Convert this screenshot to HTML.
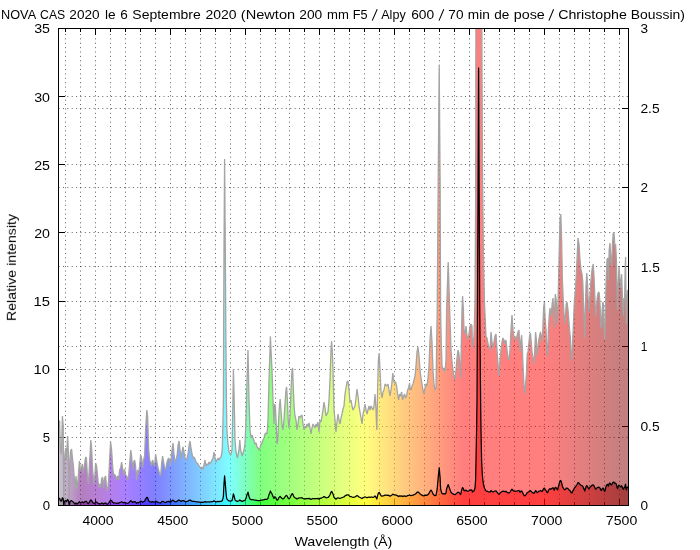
<!DOCTYPE html><html><head><meta charset="utf-8"><style>html,body{margin:0;padding:0;background:#fff;width:700px;height:550px;overflow:hidden}</style></head><body><svg width="700" height="550" viewBox="0 0 700 550" style="position:absolute;left:0;top:0;font-family:'Liberation Sans',sans-serif">
<defs><linearGradient id="sp" gradientUnits="userSpaceOnUse" x1="58.5" y1="0" x2="628.5" y2="0"><stop offset="0.0000" stop-color="rgb(149,139,159)"/><stop offset="0.0083" stop-color="rgb(137,109,147)"/><stop offset="0.0167" stop-color="rgb(129,80,143)"/><stop offset="0.0250" stop-color="rgb(122,52,146)"/><stop offset="0.0333" stop-color="rgb(109,20,131)"/><stop offset="0.0417" stop-color="rgb(103,0,126)"/><stop offset="0.0500" stop-color="rgb(107,0,141)"/><stop offset="0.0583" stop-color="rgb(110,0,155)"/><stop offset="0.0667" stop-color="rgb(111,0,169)"/><stop offset="0.0750" stop-color="rgb(110,0,183)"/><stop offset="0.0833" stop-color="rgb(108,0,197)"/><stop offset="0.0917" stop-color="rgb(105,0,211)"/><stop offset="0.1000" stop-color="rgb(100,0,226)"/><stop offset="0.1083" stop-color="rgb(94,0,240)"/><stop offset="0.1167" stop-color="rgb(86,0,254)"/><stop offset="0.1250" stop-color="rgb(73,0,255)"/><stop offset="0.1333" stop-color="rgb(59,0,255)"/><stop offset="0.1417" stop-color="rgb(46,0,255)"/><stop offset="0.1500" stop-color="rgb(32,0,255)"/><stop offset="0.1583" stop-color="rgb(19,0,255)"/><stop offset="0.1667" stop-color="rgb(5,0,255)"/><stop offset="0.1750" stop-color="rgb(0,10,255)"/><stop offset="0.1833" stop-color="rgb(0,26,255)"/><stop offset="0.1917" stop-color="rgb(0,42,255)"/><stop offset="0.2000" stop-color="rgb(0,59,255)"/><stop offset="0.2083" stop-color="rgb(0,75,255)"/><stop offset="0.2167" stop-color="rgb(0,91,255)"/><stop offset="0.2250" stop-color="rgb(0,107,255)"/><stop offset="0.2333" stop-color="rgb(0,123,255)"/><stop offset="0.2417" stop-color="rgb(0,140,255)"/><stop offset="0.2500" stop-color="rgb(0,156,255)"/><stop offset="0.2583" stop-color="rgb(0,172,255)"/><stop offset="0.2667" stop-color="rgb(0,188,255)"/><stop offset="0.2750" stop-color="rgb(0,204,255)"/><stop offset="0.2833" stop-color="rgb(0,220,255)"/><stop offset="0.2917" stop-color="rgb(0,237,255)"/><stop offset="0.3000" stop-color="rgb(0,253,255)"/><stop offset="0.3083" stop-color="rgb(0,255,220)"/><stop offset="0.3167" stop-color="rgb(0,255,179)"/><stop offset="0.3250" stop-color="rgb(0,255,139)"/><stop offset="0.3333" stop-color="rgb(0,255,98)"/><stop offset="0.3417" stop-color="rgb(0,255,58)"/><stop offset="0.3500" stop-color="rgb(0,255,18)"/><stop offset="0.3583" stop-color="rgb(7,255,0)"/><stop offset="0.3667" stop-color="rgb(18,255,0)"/><stop offset="0.3750" stop-color="rgb(30,255,0)"/><stop offset="0.3833" stop-color="rgb(41,255,0)"/><stop offset="0.3917" stop-color="rgb(53,255,0)"/><stop offset="0.4000" stop-color="rgb(64,255,0)"/><stop offset="0.4083" stop-color="rgb(76,255,0)"/><stop offset="0.4167" stop-color="rgb(88,255,0)"/><stop offset="0.4250" stop-color="rgb(99,255,0)"/><stop offset="0.4333" stop-color="rgb(111,255,0)"/><stop offset="0.4417" stop-color="rgb(122,255,0)"/><stop offset="0.4500" stop-color="rgb(134,255,0)"/><stop offset="0.4583" stop-color="rgb(145,255,0)"/><stop offset="0.4667" stop-color="rgb(157,255,0)"/><stop offset="0.4750" stop-color="rgb(168,255,0)"/><stop offset="0.4833" stop-color="rgb(180,255,0)"/><stop offset="0.4917" stop-color="rgb(192,255,0)"/><stop offset="0.5000" stop-color="rgb(203,255,0)"/><stop offset="0.5083" stop-color="rgb(215,255,0)"/><stop offset="0.5167" stop-color="rgb(226,255,0)"/><stop offset="0.5250" stop-color="rgb(238,255,0)"/><stop offset="0.5333" stop-color="rgb(249,255,0)"/><stop offset="0.5417" stop-color="rgb(255,249,0)"/><stop offset="0.5500" stop-color="rgb(255,236,0)"/><stop offset="0.5583" stop-color="rgb(255,224,0)"/><stop offset="0.5667" stop-color="rgb(255,211,0)"/><stop offset="0.5750" stop-color="rgb(255,199,0)"/><stop offset="0.5833" stop-color="rgb(255,186,0)"/><stop offset="0.5917" stop-color="rgb(255,174,0)"/><stop offset="0.6000" stop-color="rgb(255,161,0)"/><stop offset="0.6083" stop-color="rgb(255,149,0)"/><stop offset="0.6167" stop-color="rgb(255,137,0)"/><stop offset="0.6250" stop-color="rgb(255,124,0)"/><stop offset="0.6333" stop-color="rgb(255,112,0)"/><stop offset="0.6417" stop-color="rgb(255,99,0)"/><stop offset="0.6500" stop-color="rgb(255,87,0)"/><stop offset="0.6583" stop-color="rgb(255,74,0)"/><stop offset="0.6667" stop-color="rgb(255,62,0)"/><stop offset="0.6750" stop-color="rgb(255,49,0)"/><stop offset="0.6833" stop-color="rgb(255,37,0)"/><stop offset="0.6917" stop-color="rgb(255,24,0)"/><stop offset="0.7000" stop-color="rgb(255,12,0)"/><stop offset="0.7083" stop-color="rgb(255,0,0)"/><stop offset="0.7167" stop-color="rgb(255,0,0)"/><stop offset="0.7250" stop-color="rgb(255,0,0)"/><stop offset="0.7333" stop-color="rgb(255,0,0)"/><stop offset="0.7417" stop-color="rgb(255,0,0)"/><stop offset="0.7500" stop-color="rgb(255,0,0)"/><stop offset="0.7583" stop-color="rgb(255,0,0)"/><stop offset="0.7667" stop-color="rgb(255,0,0)"/><stop offset="0.7750" stop-color="rgb(255,0,0)"/><stop offset="0.7833" stop-color="rgb(255,0,0)"/><stop offset="0.7917" stop-color="rgb(255,0,0)"/><stop offset="0.8000" stop-color="rgb(255,0,0)"/><stop offset="0.8083" stop-color="rgb(255,0,0)"/><stop offset="0.8167" stop-color="rgb(255,0,0)"/><stop offset="0.8250" stop-color="rgb(255,0,0)"/><stop offset="0.8333" stop-color="rgb(255,0,0)"/><stop offset="0.8417" stop-color="rgb(255,0,0)"/><stop offset="0.8500" stop-color="rgb(255,0,0)"/><stop offset="0.8583" stop-color="rgb(250,0,0)"/><stop offset="0.8667" stop-color="rgb(243,0,0)"/><stop offset="0.8750" stop-color="rgb(236,0,0)"/><stop offset="0.8833" stop-color="rgb(229,0,0)"/><stop offset="0.8917" stop-color="rgb(222,0,0)"/><stop offset="0.9000" stop-color="rgb(215,0,0)"/><stop offset="0.9083" stop-color="rgb(207,0,0)"/><stop offset="0.9167" stop-color="rgb(200,0,0)"/><stop offset="0.9250" stop-color="rgb(193,0,0)"/><stop offset="0.9333" stop-color="rgb(186,0,0)"/><stop offset="0.9417" stop-color="rgb(179,0,0)"/><stop offset="0.9500" stop-color="rgb(172,0,0)"/><stop offset="0.9583" stop-color="rgb(165,0,0)"/><stop offset="0.9667" stop-color="rgb(158,0,0)"/><stop offset="0.9750" stop-color="rgb(151,0,0)"/><stop offset="0.9833" stop-color="rgb(144,0,0)"/><stop offset="0.9917" stop-color="rgb(137,0,0)"/><stop offset="1.0000" stop-color="rgb(130,0,0)"/></linearGradient>
<clipPath id="cp"><rect x="58.5" y="28.5" width="570.0" height="477.0"/></clipPath></defs>
<rect width="700" height="550" fill="#fff"/>
<path d="M65.5 32.0 V505.5 M80.5 32.0 V505.5 M95.5 32.0 V505.5 M110.5 32.0 V505.5 M125.5 32.0 V505.5 M140.5 32.0 V505.5 M155.5 32.0 V505.5 M170.5 32.0 V505.5 M185.5 32.0 V505.5 M200.5 32.0 V505.5 M215.5 32.0 V505.5 M230.5 32.0 V505.5 M245.5 32.0 V505.5 M260.5 32.0 V505.5 M275.5 32.0 V505.5 M289.5 32.0 V505.5 M304.5 32.0 V505.5 M319.5 32.0 V505.5 M334.5 32.0 V505.5 M349.5 32.0 V505.5 M364.5 32.0 V505.5 M379.5 32.0 V505.5 M394.5 32.0 V505.5 M409.5 32.0 V505.5 M424.5 32.0 V505.5 M439.5 32.0 V505.5 M454.5 32.0 V505.5 M469.5 32.0 V505.5 M484.5 32.0 V505.5 M499.5 32.0 V505.5 M514.5 32.0 V505.5 M529.5 32.0 V505.5 M544.5 32.0 V505.5 M559.5 32.0 V505.5 M574.5 32.0 V505.5 M589.5 32.0 V505.5 M604.5 32.0 V505.5 M619.5 32.0 V505.5" stroke="#000" stroke-opacity="0.62" stroke-width="1" stroke-dasharray="1 3.38" stroke-dashoffset="-2" fill="none"/>
<path d="M58.5 437.5 H628.5 M58.5 369.5 H628.5 M58.5 301.5 H628.5 M58.5 232.5 H628.5 M58.5 164.5 H628.5 M58.5 96.5 H628.5 M58.5 426.5 H628.5 M58.5 346.5 H628.5 M58.5 266.5 H628.5 M58.5 187.5 H628.5 M58.5 108.5 H628.5" stroke="#000" stroke-opacity="0.62" stroke-width="1" stroke-dasharray="1 3.37" stroke-dashoffset="-0.1" fill="none"/>
<path d="M65.5 28.5 v3.5 M65.5 505.5 v-3.5 M80.5 28.5 v3.5 M80.5 505.5 v-3.5 M95.5 28.5 v6.5 M95.5 505.5 v-6.5 M110.5 28.5 v3.5 M110.5 505.5 v-3.5 M125.5 28.5 v3.5 M125.5 505.5 v-3.5 M140.5 28.5 v3.5 M140.5 505.5 v-3.5 M155.5 28.5 v3.5 M155.5 505.5 v-3.5 M170.5 28.5 v6.5 M170.5 505.5 v-6.5 M185.5 28.5 v3.5 M185.5 505.5 v-3.5 M200.5 28.5 v3.5 M200.5 505.5 v-3.5 M215.5 28.5 v3.5 M215.5 505.5 v-3.5 M230.5 28.5 v3.5 M230.5 505.5 v-3.5 M245.5 28.5 v6.5 M245.5 505.5 v-6.5 M260.5 28.5 v3.5 M260.5 505.5 v-3.5 M275.5 28.5 v3.5 M275.5 505.5 v-3.5 M289.5 28.5 v3.5 M289.5 505.5 v-3.5 M304.5 28.5 v3.5 M304.5 505.5 v-3.5 M319.5 28.5 v6.5 M319.5 505.5 v-6.5 M334.5 28.5 v3.5 M334.5 505.5 v-3.5 M349.5 28.5 v3.5 M349.5 505.5 v-3.5 M364.5 28.5 v3.5 M364.5 505.5 v-3.5 M379.5 28.5 v3.5 M379.5 505.5 v-3.5 M394.5 28.5 v6.5 M394.5 505.5 v-6.5 M409.5 28.5 v3.5 M409.5 505.5 v-3.5 M424.5 28.5 v3.5 M424.5 505.5 v-3.5 M439.5 28.5 v3.5 M439.5 505.5 v-3.5 M454.5 28.5 v3.5 M454.5 505.5 v-3.5 M469.5 28.5 v6.5 M469.5 505.5 v-6.5 M484.5 28.5 v3.5 M484.5 505.5 v-3.5 M499.5 28.5 v3.5 M499.5 505.5 v-3.5 M514.5 28.5 v3.5 M514.5 505.5 v-3.5 M529.5 28.5 v3.5 M529.5 505.5 v-3.5 M544.5 28.5 v6.5 M544.5 505.5 v-6.5 M559.5 28.5 v3.5 M559.5 505.5 v-3.5 M574.5 28.5 v3.5 M574.5 505.5 v-3.5 M589.5 28.5 v3.5 M589.5 505.5 v-3.5 M604.5 28.5 v3.5 M604.5 505.5 v-3.5 M619.5 28.5 v6.5 M619.5 505.5 v-6.5 M58.5 505.5 h6.5 M58.5 437.5 h6.5 M58.5 369.5 h6.5 M58.5 301.5 h6.5 M58.5 232.5 h6.5 M58.5 164.5 h6.5 M58.5 96.5 h6.5 M58.5 28.5 h6.5 M628.5 505.5 h-6.5 M628.5 426.5 h-6.5 M628.5 346.5 h-6.5 M628.5 266.5 h-6.5 M628.5 187.5 h-6.5 M628.5 108.5 h-6.5 M628.5 28.5 h-6.5" stroke="#000" stroke-width="1" fill="none" shape-rendering="crispEdges"/>
<g clip-path="url(#cp)">
<path d="M58.8 505.5 L58.8 421.0 L59.6 421.0 L60.4 450.0 L61.4 454.0 L62.4 416.0 L63.2 426.0 L63.8 505.4 L64.4 460.0 L65.6 448.0 L66.4 460.0 L67.6 436.0 L68.4 452.0 L69.4 505.4 L70.0 460.0 L70.6 451.0 L71.6 449.0 L72.4 458.0 L73.4 466.0 L74.4 480.0 L75.0 489.0 L76.0 476.0 L77.0 489.0 L78.0 480.0 L79.4 461.0 L80.4 470.0 L81.4 468.0 L82.4 464.0 L83.4 474.0 L84.4 466.0 L85.6 457.0 L86.4 458.0 L87.4 476.0 L88.4 484.0 L89.4 466.0 L90.8 440.0 L91.6 448.0 L92.6 470.0 L93.6 480.0 L94.4 484.0 L95.6 463.0 L96.6 466.0 L97.6 476.0 L98.6 487.0 L99.6 484.0 L100.6 488.0 L101.6 479.0 L102.6 477.0 L103.6 488.0 L104.6 478.0 L105.6 476.0 L106.6 488.0 L107.6 491.0 L108.6 480.0 L109.6 460.0 L110.6 442.0 L111.6 450.0 L112.6 466.0 L113.6 476.0 L114.4 474.0 L115.6 476.0 L116.6 480.0 L117.6 476.0 L118.6 480.0 L119.6 470.0 L120.6 468.0 L121.6 462.0 L122.6 468.0 L123.6 475.0 L124.6 469.0 L125.6 475.0 L126.6 476.0 L127.6 480.0 L128.6 476.0 L129.6 464.0 L130.8 450.0 L131.6 456.0 L132.6 470.0 L133.6 462.0 L134.6 460.0 L135.6 466.0 L136.6 480.0 L137.6 470.0 L138.6 474.0 L139.6 466.0 L140.6 455.0 L141.6 458.0 L142.6 468.0 L143.6 460.0 L144.6 456.0 L145.6 430.0 L146.8 410.0 L147.6 416.0 L148.6 448.0 L149.6 460.0 L150.6 462.0 L151.6 466.0 L152.6 460.0 L153.6 464.0 L154.6 466.0 L155.6 454.0 L156.6 460.0 L157.6 466.0 L158.6 470.0 L159.6 474.0 L160.6 476.0 L161.6 464.0 L162.6 456.0 L163.6 462.0 L164.6 468.0 L165.6 470.0 L166.6 464.0 L167.6 460.0 L168.6 458.0 L169.6 460.0 L170.0 466.0 L171.0 460.0 L172.0 450.0 L173.0 443.0 L174.0 454.0 L175.0 462.0 L176.0 460.0 L177.0 456.0 L178.0 446.0 L179.0 441.0 L180.0 450.0 L181.0 458.0 L182.0 452.0 L183.0 447.0 L184.0 452.0 L185.0 458.0 L186.0 460.0 L187.0 458.0 L188.0 454.0 L189.0 446.0 L190.0 441.0 L191.0 448.0 L192.0 454.0 L193.0 458.0 L194.0 457.0 L195.0 459.0 L196.0 462.0 L197.0 463.0 L198.0 464.0 L199.0 466.0 L200.0 467.0 L201.0 469.0 L202.0 467.0 L203.0 469.0 L204.0 465.0 L205.0 460.0 L206.0 466.0 L207.0 464.0 L208.0 465.0 L209.0 462.0 L210.0 464.0 L211.0 462.0 L212.0 460.0 L213.0 458.0 L214.0 452.0 L215.0 458.0 L216.0 462.0 L217.0 460.0 L218.0 458.0 L219.0 460.0 L220.0 458.0 L221.0 457.0 L222.0 452.0 L222.4 445.0 L223.0 420.0 L223.4 400.0 L223.6 340.0 L224.0 250.0 L224.6 159.0 L225.3 250.0 L225.9 340.0 L226.4 400.0 L226.9 430.0 L228.0 444.0 L229.0 452.0 L230.6 455.0 L232.0 450.0 L232.6 420.0 L233.4 369.0 L234.2 400.0 L235.0 440.0 L236.0 452.0 L237.4 458.0 L239.0 450.0 L239.8 440.0 L240.6 450.0 L242.2 456.0 L244.0 450.0 L245.0 444.0 L246.0 420.0 L247.0 380.0 L248.0 350.0 L249.0 400.0 L250.0 430.0 L251.0 438.0 L252.0 435.0 L253.0 438.0 L254.0 441.0 L255.0 444.0 L256.0 443.0 L257.0 447.0 L258.0 448.0 L259.0 450.0 L260.0 448.0 L261.0 444.0 L262.0 443.0 L263.0 440.0 L264.0 438.0 L265.0 434.0 L266.0 433.0 L267.0 434.0 L268.0 420.0 L269.0 380.0 L270.0 350.0 L270.4 336.4 L271.0 350.0 L272.0 370.0 L273.0 400.0 L274.0 424.0 L274.6 404.0 L275.4 406.0 L276.2 424.0 L277.0 444.0 L277.8 440.0 L278.6 420.0 L279.4 406.0 L280.2 399.0 L281.0 410.0 L282.0 424.0 L283.0 430.0 L284.0 420.0 L285.0 404.0 L286.0 390.0 L286.6 387.0 L287.4 400.0 L288.2 420.0 L289.0 428.0 L290.0 416.0 L291.0 390.0 L292.0 370.0 L292.6 368.0 L293.4 390.0 L294.2 408.0 L295.0 416.0 L296.0 420.0 L297.0 430.0 L298.0 424.0 L299.0 416.0 L300.0 418.0 L301.0 416.0 L302.0 415.0 L303.0 424.0 L304.0 430.0 L305.0 426.0 L306.0 428.0 L307.0 424.0 L308.0 426.0 L309.0 423.0 L310.0 428.0 L311.0 434.0 L312.0 428.0 L313.0 424.0 L314.0 426.0 L315.0 428.0 L316.0 424.0 L317.0 426.0 L318.0 422.0 L319.0 432.0 L320.0 420.0 L321.0 422.0 L322.0 416.0 L323.0 410.0 L324.0 402.0 L325.0 408.0 L326.0 416.0 L327.0 414.0 L328.0 412.0 L329.0 400.0 L330.0 380.0 L331.0 350.0 L331.6 341.0 L332.2 350.0 L333.0 370.0 L334.0 410.0 L335.0 420.0 L336.0 432.0 L337.0 422.0 L338.0 414.0 L339.0 420.0 L340.0 424.0 L341.0 418.0 L342.0 414.0 L343.0 409.0 L344.0 406.0 L345.0 394.0 L346.0 388.0 L347.0 382.0 L348.0 381.0 L349.0 390.0 L350.0 402.0 L351.0 400.0 L352.0 406.0 L353.0 410.0 L354.0 408.0 L355.0 406.0 L356.0 398.0 L357.0 389.0 L358.0 396.0 L359.0 406.0 L360.0 412.0 L361.0 418.0 L362.0 424.0 L363.0 414.0 L364.0 410.0 L365.0 404.0 L366.0 410.0 L367.0 414.0 L368.0 410.0 L369.0 406.0 L370.0 410.0 L371.0 406.0 L372.0 408.0 L373.0 410.0 L374.0 406.0 L375.0 394.0 L376.0 410.0 L376.8 430.0 L377.6 390.0 L378.4 360.0 L379.2 353.0 L380.0 370.0 L381.0 392.0 L382.0 398.0 L383.0 392.0 L384.0 390.0 L385.0 384.0 L386.0 385.0 L387.0 386.0 L388.0 384.0 L389.0 390.0 L390.0 396.0 L391.0 390.0 L392.0 382.0 L392.8 373.0 L393.6 380.0 L394.6 383.0 L395.6 382.0 L396.6 386.0 L397.6 394.0 L398.6 400.0 L399.6 394.0 L400.6 396.0 L401.6 392.0 L402.6 400.0 L403.6 396.0 L404.6 394.0 L405.6 398.0 L406.6 396.0 L407.6 390.0 L408.6 388.0 L409.6 383.0 L410.0 388.0 L411.0 390.0 L412.0 386.0 L413.0 384.0 L414.0 380.0 L415.0 376.0 L416.0 366.0 L417.0 352.0 L418.0 347.0 L419.0 356.0 L420.0 370.0 L421.0 378.0 L422.0 384.0 L423.0 390.0 L424.0 394.0 L425.0 388.0 L426.0 384.0 L427.0 386.0 L428.0 378.0 L429.0 366.0 L430.0 340.0 L431.0 326.0 L432.0 342.0 L433.0 370.0 L434.0 384.0 L435.0 390.0 L436.0 388.0 L436.6 350.0 L437.2 310.0 L438.2 180.0 L439.2 65.0 L440.1 180.0 L440.6 310.0 L441.2 340.0 L442.0 366.0 L443.0 370.0 L444.0 368.0 L445.0 372.0 L446.0 360.0 L446.6 310.0 L448.2 262.0 L450.0 320.0 L451.0 350.0 L452.0 362.0 L453.0 370.0 L454.0 376.0 L455.0 380.0 L456.0 370.0 L457.0 358.0 L458.0 350.0 L459.0 354.0 L460.0 370.0 L460.6 378.0 L461.2 350.0 L462.0 310.0 L462.6 296.0 L463.4 310.0 L464.0 330.0 L465.0 334.0 L466.0 326.0 L467.0 336.0 L468.0 340.0 L469.0 334.0 L470.0 326.0 L471.0 324.0 L472.0 326.0 L472.4 348.0 L474.0 336.3 L475.0 301.3 L475.6 208.0 L476.0 -25.3 L476.6 -200.0 L477.0 -200.0 L477.5 -200.0 L478.0 -200.0 L478.6 -200.0 L479.2 -200.0 L479.7 -200.0 L480.6 -200.0 L481.0 -200.0 L481.6 -25.3 L482.4 161.3 L483.4 254.7 L484.4 301.3 L486.0 336.3 L487.0 338.0 L488.0 344.0 L489.0 348.0 L490.0 350.0 L491.0 332.0 L492.0 342.0 L493.0 348.0 L494.0 342.0 L495.0 336.0 L496.0 334.0 L497.0 350.0 L498.0 364.0 L499.0 376.0 L500.0 360.0 L501.0 350.0 L502.0 342.0 L503.0 338.0 L504.0 340.0 L505.0 344.0 L506.0 340.0 L507.0 350.0 L508.0 358.0 L509.0 360.0 L510.0 350.0 L511.0 330.0 L512.0 315.0 L513.0 330.0 L514.0 338.0 L515.0 336.0 L516.0 342.0 L517.0 336.0 L518.0 332.0 L519.0 330.0 L520.0 352.0 L521.0 340.0 L521.6 335.0 L522.4 350.0 L523.2 370.0 L524.0 386.0 L524.8 394.0 L525.6 384.0 L526.4 374.0 L527.2 354.0 L528.0 352.0 L528.8 344.0 L529.6 336.0 L530.4 333.0 L531.2 342.0 L532.0 352.0 L533.0 358.0 L534.0 364.0 L534.8 350.0 L535.6 332.0 L536.4 340.0 L537.2 356.0 L538.0 348.0 L538.8 340.0 L539.6 336.0 L540.4 332.0 L541.2 336.0 L542.0 342.0 L542.8 330.0 L543.6 308.0 L544.4 302.0 L545.2 320.0 L546.0 330.0 L546.8 350.0 L547.6 356.0 L548.4 330.0 L549.2 316.0 L550.0 308.0 L550.8 316.0 L551.6 310.0 L552.4 302.0 L553.0 298.0 L553.6 314.0 L554.2 328.0 L554.8 304.0 L555.4 294.0 L556.2 300.0 L557.0 314.0 L557.6 324.0 L558.2 296.0 L559.0 260.0 L560.0 220.0 L560.8 214.0 L561.6 240.0 L562.4 280.0 L563.2 300.0 L564.0 314.0 L564.8 324.0 L565.6 314.0 L566.2 304.0 L567.0 302.0 L568.0 310.0 L568.8 320.0 L569.6 330.0 L570.4 338.0 L571.2 356.0 L572.0 360.0 L572.8 338.0 L573.6 320.0 L574.4 300.0 L575.2 292.0 L576.0 280.0 L577.0 260.0 L578.0 238.0 L579.0 244.0 L580.0 260.0 L581.0 270.0 L582.0 274.0 L582.8 282.0 L583.4 300.0 L584.0 314.0 L584.8 338.0 L585.4 310.0 L586.0 286.0 L586.8 273.0 L587.6 286.0 L588.2 300.0 L588.8 312.0 L589.4 304.0 L590.0 294.0 L591.0 280.0 L592.0 270.0 L593.2 264.0 L594.0 276.0 L594.8 296.0 L595.6 316.0 L596.4 308.0 L597.2 298.0 L598.0 293.0 L599.0 292.0 L599.8 300.0 L600.4 312.0 L600.8 326.0 L601.6 328.0 L602.2 310.0 L602.8 302.0 L603.4 304.0 L604.0 326.0 L604.8 340.0 L605.4 314.0 L606.0 284.0 L607.0 260.0 L607.6 258.0 L608.4 280.0 L609.2 250.0 L610.0 243.0 L610.8 260.0 L611.6 266.0 L612.4 246.0 L613.2 233.0 L614.0 233.0 L614.8 246.0 L615.6 244.0 L616.4 260.0 L617.0 290.0 L617.6 310.0 L618.2 284.0 L619.0 267.0 L620.0 280.0 L621.0 288.0 L621.6 274.0 L622.2 290.0 L622.8 306.0 L623.4 316.0 L624.0 298.0 L624.6 300.0 L625.2 268.0 L625.6 257.0 L626.0 300.0 L626.4 324.0 L627.0 300.0 L627.6 290.0 L628.4 296.0 L628.4 505.5 Z" fill="url(#sp)" fill-opacity="0.5"/>
<path d="M58.8 421.0 L59.6 421.0 L60.4 450.0 L61.4 454.0 L62.4 416.0 L63.2 426.0 L63.8 505.4 L64.4 460.0 L65.6 448.0 L66.4 460.0 L67.6 436.0 L68.4 452.0 L69.4 505.4 L70.0 460.0 L70.6 451.0 L71.6 449.0 L72.4 458.0 L73.4 466.0 L74.4 480.0 L75.0 489.0 L76.0 476.0 L77.0 489.0 L78.0 480.0 L79.4 461.0 L80.4 470.0 L81.4 468.0 L82.4 464.0 L83.4 474.0 L84.4 466.0 L85.6 457.0 L86.4 458.0 L87.4 476.0 L88.4 484.0 L89.4 466.0 L90.8 440.0 L91.6 448.0 L92.6 470.0 L93.6 480.0 L94.4 484.0 L95.6 463.0 L96.6 466.0 L97.6 476.0 L98.6 487.0 L99.6 484.0 L100.6 488.0 L101.6 479.0 L102.6 477.0 L103.6 488.0 L104.6 478.0 L105.6 476.0 L106.6 488.0 L107.6 491.0 L108.6 480.0 L109.6 460.0 L110.6 442.0 L111.6 450.0 L112.6 466.0 L113.6 476.0 L114.4 474.0 L115.6 476.0 L116.6 480.0 L117.6 476.0 L118.6 480.0 L119.6 470.0 L120.6 468.0 L121.6 462.0 L122.6 468.0 L123.6 475.0 L124.6 469.0 L125.6 475.0 L126.6 476.0 L127.6 480.0 L128.6 476.0 L129.6 464.0 L130.8 450.0 L131.6 456.0 L132.6 470.0 L133.6 462.0 L134.6 460.0 L135.6 466.0 L136.6 480.0 L137.6 470.0 L138.6 474.0 L139.6 466.0 L140.6 455.0 L141.6 458.0 L142.6 468.0 L143.6 460.0 L144.6 456.0 L145.6 430.0 L146.8 410.0 L147.6 416.0 L148.6 448.0 L149.6 460.0 L150.6 462.0 L151.6 466.0 L152.6 460.0 L153.6 464.0 L154.6 466.0 L155.6 454.0 L156.6 460.0 L157.6 466.0 L158.6 470.0 L159.6 474.0 L160.6 476.0 L161.6 464.0 L162.6 456.0 L163.6 462.0 L164.6 468.0 L165.6 470.0 L166.6 464.0 L167.6 460.0 L168.6 458.0 L169.6 460.0 L170.0 466.0 L171.0 460.0 L172.0 450.0 L173.0 443.0 L174.0 454.0 L175.0 462.0 L176.0 460.0 L177.0 456.0 L178.0 446.0 L179.0 441.0 L180.0 450.0 L181.0 458.0 L182.0 452.0 L183.0 447.0 L184.0 452.0 L185.0 458.0 L186.0 460.0 L187.0 458.0 L188.0 454.0 L189.0 446.0 L190.0 441.0 L191.0 448.0 L192.0 454.0 L193.0 458.0 L194.0 457.0 L195.0 459.0 L196.0 462.0 L197.0 463.0 L198.0 464.0 L199.0 466.0 L200.0 467.0 L201.0 469.0 L202.0 467.0 L203.0 469.0 L204.0 465.0 L205.0 460.0 L206.0 466.0 L207.0 464.0 L208.0 465.0 L209.0 462.0 L210.0 464.0 L211.0 462.0 L212.0 460.0 L213.0 458.0 L214.0 452.0 L215.0 458.0 L216.0 462.0 L217.0 460.0 L218.0 458.0 L219.0 460.0 L220.0 458.0 L221.0 457.0 L222.0 452.0 L222.4 445.0 L223.0 420.0 L223.4 400.0 L223.6 340.0 L224.0 250.0 L224.6 159.0 L225.3 250.0 L225.9 340.0 L226.4 400.0 L226.9 430.0 L228.0 444.0 L229.0 452.0 L230.6 455.0 L232.0 450.0 L232.6 420.0 L233.4 369.0 L234.2 400.0 L235.0 440.0 L236.0 452.0 L237.4 458.0 L239.0 450.0 L239.8 440.0 L240.6 450.0 L242.2 456.0 L244.0 450.0 L245.0 444.0 L246.0 420.0 L247.0 380.0 L248.0 350.0 L249.0 400.0 L250.0 430.0 L251.0 438.0 L252.0 435.0 L253.0 438.0 L254.0 441.0 L255.0 444.0 L256.0 443.0 L257.0 447.0 L258.0 448.0 L259.0 450.0 L260.0 448.0 L261.0 444.0 L262.0 443.0 L263.0 440.0 L264.0 438.0 L265.0 434.0 L266.0 433.0 L267.0 434.0 L268.0 420.0 L269.0 380.0 L270.0 350.0 L270.4 336.4 L271.0 350.0 L272.0 370.0 L273.0 400.0 L274.0 424.0 L274.6 404.0 L275.4 406.0 L276.2 424.0 L277.0 444.0 L277.8 440.0 L278.6 420.0 L279.4 406.0 L280.2 399.0 L281.0 410.0 L282.0 424.0 L283.0 430.0 L284.0 420.0 L285.0 404.0 L286.0 390.0 L286.6 387.0 L287.4 400.0 L288.2 420.0 L289.0 428.0 L290.0 416.0 L291.0 390.0 L292.0 370.0 L292.6 368.0 L293.4 390.0 L294.2 408.0 L295.0 416.0 L296.0 420.0 L297.0 430.0 L298.0 424.0 L299.0 416.0 L300.0 418.0 L301.0 416.0 L302.0 415.0 L303.0 424.0 L304.0 430.0 L305.0 426.0 L306.0 428.0 L307.0 424.0 L308.0 426.0 L309.0 423.0 L310.0 428.0 L311.0 434.0 L312.0 428.0 L313.0 424.0 L314.0 426.0 L315.0 428.0 L316.0 424.0 L317.0 426.0 L318.0 422.0 L319.0 432.0 L320.0 420.0 L321.0 422.0 L322.0 416.0 L323.0 410.0 L324.0 402.0 L325.0 408.0 L326.0 416.0 L327.0 414.0 L328.0 412.0 L329.0 400.0 L330.0 380.0 L331.0 350.0 L331.6 341.0 L332.2 350.0 L333.0 370.0 L334.0 410.0 L335.0 420.0 L336.0 432.0 L337.0 422.0 L338.0 414.0 L339.0 420.0 L340.0 424.0 L341.0 418.0 L342.0 414.0 L343.0 409.0 L344.0 406.0 L345.0 394.0 L346.0 388.0 L347.0 382.0 L348.0 381.0 L349.0 390.0 L350.0 402.0 L351.0 400.0 L352.0 406.0 L353.0 410.0 L354.0 408.0 L355.0 406.0 L356.0 398.0 L357.0 389.0 L358.0 396.0 L359.0 406.0 L360.0 412.0 L361.0 418.0 L362.0 424.0 L363.0 414.0 L364.0 410.0 L365.0 404.0 L366.0 410.0 L367.0 414.0 L368.0 410.0 L369.0 406.0 L370.0 410.0 L371.0 406.0 L372.0 408.0 L373.0 410.0 L374.0 406.0 L375.0 394.0 L376.0 410.0 L376.8 430.0 L377.6 390.0 L378.4 360.0 L379.2 353.0 L380.0 370.0 L381.0 392.0 L382.0 398.0 L383.0 392.0 L384.0 390.0 L385.0 384.0 L386.0 385.0 L387.0 386.0 L388.0 384.0 L389.0 390.0 L390.0 396.0 L391.0 390.0 L392.0 382.0 L392.8 373.0 L393.6 380.0 L394.6 383.0 L395.6 382.0 L396.6 386.0 L397.6 394.0 L398.6 400.0 L399.6 394.0 L400.6 396.0 L401.6 392.0 L402.6 400.0 L403.6 396.0 L404.6 394.0 L405.6 398.0 L406.6 396.0 L407.6 390.0 L408.6 388.0 L409.6 383.0 L410.0 388.0 L411.0 390.0 L412.0 386.0 L413.0 384.0 L414.0 380.0 L415.0 376.0 L416.0 366.0 L417.0 352.0 L418.0 347.0 L419.0 356.0 L420.0 370.0 L421.0 378.0 L422.0 384.0 L423.0 390.0 L424.0 394.0 L425.0 388.0 L426.0 384.0 L427.0 386.0 L428.0 378.0 L429.0 366.0 L430.0 340.0 L431.0 326.0 L432.0 342.0 L433.0 370.0 L434.0 384.0 L435.0 390.0 L436.0 388.0 L436.6 350.0 L437.2 310.0 L438.2 180.0 L439.2 65.0 L440.1 180.0 L440.6 310.0 L441.2 340.0 L442.0 366.0 L443.0 370.0 L444.0 368.0 L445.0 372.0 L446.0 360.0 L446.6 310.0 L448.2 262.0 L450.0 320.0 L451.0 350.0 L452.0 362.0 L453.0 370.0 L454.0 376.0 L455.0 380.0 L456.0 370.0 L457.0 358.0 L458.0 350.0 L459.0 354.0 L460.0 370.0 L460.6 378.0 L461.2 350.0 L462.0 310.0 L462.6 296.0 L463.4 310.0 L464.0 330.0 L465.0 334.0 L466.0 326.0 L467.0 336.0 L468.0 340.0 L469.0 334.0 L470.0 326.0 L471.0 324.0 L472.0 326.0 L472.4 348.0 L474.0 336.3 L475.0 301.3 L475.6 208.0 L476.0 -25.3 L476.6 -200.0 L477.0 -200.0 L477.5 -200.0 L478.0 -200.0 L478.6 -200.0 L479.2 -200.0 L479.7 -200.0 L480.6 -200.0 L481.0 -200.0 L481.6 -25.3 L482.4 161.3 L483.4 254.7 L484.4 301.3 L486.0 336.3 L487.0 338.0 L488.0 344.0 L489.0 348.0 L490.0 350.0 L491.0 332.0 L492.0 342.0 L493.0 348.0 L494.0 342.0 L495.0 336.0 L496.0 334.0 L497.0 350.0 L498.0 364.0 L499.0 376.0 L500.0 360.0 L501.0 350.0 L502.0 342.0 L503.0 338.0 L504.0 340.0 L505.0 344.0 L506.0 340.0 L507.0 350.0 L508.0 358.0 L509.0 360.0 L510.0 350.0 L511.0 330.0 L512.0 315.0 L513.0 330.0 L514.0 338.0 L515.0 336.0 L516.0 342.0 L517.0 336.0 L518.0 332.0 L519.0 330.0 L520.0 352.0 L521.0 340.0 L521.6 335.0 L522.4 350.0 L523.2 370.0 L524.0 386.0 L524.8 394.0 L525.6 384.0 L526.4 374.0 L527.2 354.0 L528.0 352.0 L528.8 344.0 L529.6 336.0 L530.4 333.0 L531.2 342.0 L532.0 352.0 L533.0 358.0 L534.0 364.0 L534.8 350.0 L535.6 332.0 L536.4 340.0 L537.2 356.0 L538.0 348.0 L538.8 340.0 L539.6 336.0 L540.4 332.0 L541.2 336.0 L542.0 342.0 L542.8 330.0 L543.6 308.0 L544.4 302.0 L545.2 320.0 L546.0 330.0 L546.8 350.0 L547.6 356.0 L548.4 330.0 L549.2 316.0 L550.0 308.0 L550.8 316.0 L551.6 310.0 L552.4 302.0 L553.0 298.0 L553.6 314.0 L554.2 328.0 L554.8 304.0 L555.4 294.0 L556.2 300.0 L557.0 314.0 L557.6 324.0 L558.2 296.0 L559.0 260.0 L560.0 220.0 L560.8 214.0 L561.6 240.0 L562.4 280.0 L563.2 300.0 L564.0 314.0 L564.8 324.0 L565.6 314.0 L566.2 304.0 L567.0 302.0 L568.0 310.0 L568.8 320.0 L569.6 330.0 L570.4 338.0 L571.2 356.0 L572.0 360.0 L572.8 338.0 L573.6 320.0 L574.4 300.0 L575.2 292.0 L576.0 280.0 L577.0 260.0 L578.0 238.0 L579.0 244.0 L580.0 260.0 L581.0 270.0 L582.0 274.0 L582.8 282.0 L583.4 300.0 L584.0 314.0 L584.8 338.0 L585.4 310.0 L586.0 286.0 L586.8 273.0 L587.6 286.0 L588.2 300.0 L588.8 312.0 L589.4 304.0 L590.0 294.0 L591.0 280.0 L592.0 270.0 L593.2 264.0 L594.0 276.0 L594.8 296.0 L595.6 316.0 L596.4 308.0 L597.2 298.0 L598.0 293.0 L599.0 292.0 L599.8 300.0 L600.4 312.0 L600.8 326.0 L601.6 328.0 L602.2 310.0 L602.8 302.0 L603.4 304.0 L604.0 326.0 L604.8 340.0 L605.4 314.0 L606.0 284.0 L607.0 260.0 L607.6 258.0 L608.4 280.0 L609.2 250.0 L610.0 243.0 L610.8 260.0 L611.6 266.0 L612.4 246.0 L613.2 233.0 L614.0 233.0 L614.8 246.0 L615.6 244.0 L616.4 260.0 L617.0 290.0 L617.6 310.0 L618.2 284.0 L619.0 267.0 L620.0 280.0 L621.0 288.0 L621.6 274.0 L622.2 290.0 L622.8 306.0 L623.4 316.0 L624.0 298.0 L624.6 300.0 L625.2 268.0 L625.6 257.0 L626.0 300.0 L626.4 324.0 L627.0 300.0 L627.6 290.0 L628.4 296.0" fill="none" stroke="#a4a4a4" stroke-width="1.3" stroke-linejoin="bevel"/>
<path d="M58.8 505.5 L58.8 498.3 L59.6 498.3 L60.4 500.7 L61.4 501.1 L62.4 497.8 L63.2 498.7 L63.8 505.5 L64.4 501.6 L65.6 500.6 L66.4 501.6 L67.6 499.5 L68.4 500.9 L69.4 505.5 L70.0 501.6 L70.6 500.8 L71.6 500.7 L72.4 501.4 L73.4 502.1 L74.4 503.3 L75.0 504.1 L76.0 503.0 L77.0 504.1 L78.0 503.3 L79.4 501.7 L80.4 502.5 L81.4 502.3 L82.4 501.9 L83.4 502.8 L84.4 502.1 L85.6 501.3 L86.4 501.4 L87.4 503.0 L88.4 503.7 L89.4 502.1 L90.8 499.9 L91.6 500.6 L92.6 502.5 L93.6 503.3 L94.4 503.7 L95.6 501.9 L96.6 502.1 L97.6 503.0 L98.6 503.9 L99.6 503.7 L100.6 504.0 L101.6 503.2 L102.6 503.1 L103.6 504.0 L104.6 503.1 L105.6 503.0 L106.6 504.0 L107.6 504.3 L108.6 503.3 L109.6 501.6 L110.6 500.1 L111.6 500.7 L112.6 502.1 L113.6 503.0 L114.4 502.8 L115.6 503.0 L116.6 503.3 L117.6 503.0 L118.6 503.3 L119.6 502.5 L120.6 502.3 L121.6 501.8 L122.6 502.3 L123.6 502.9 L124.6 502.4 L125.6 502.9 L126.6 503.0 L127.6 503.3 L128.6 503.0 L129.6 501.9 L130.8 500.7 L131.6 501.3 L132.6 502.5 L133.6 501.8 L134.6 501.6 L135.6 502.1 L136.6 503.3 L137.6 502.5 L138.6 502.8 L139.6 502.1 L140.6 501.2 L141.6 501.4 L142.6 502.3 L143.6 501.6 L144.6 501.3 L145.6 499.0 L146.8 497.3 L147.6 497.8 L148.6 500.6 L149.6 501.6 L150.6 501.8 L151.6 502.1 L152.6 501.6 L153.6 501.9 L154.6 502.1 L155.6 501.1 L156.6 501.6 L157.6 502.1 L158.6 502.5 L159.6 502.8 L160.6 503.0 L161.6 501.9 L162.6 501.3 L163.6 501.8 L164.6 502.3 L165.6 502.5 L166.6 501.9 L167.6 501.6 L168.6 501.4 L169.6 501.6 L170.0 502.1 L171.0 501.6 L172.0 500.7 L173.0 500.1 L174.0 501.1 L175.0 501.8 L176.0 501.6 L177.0 501.3 L178.0 500.4 L179.0 500.0 L180.0 500.7 L181.0 501.4 L182.0 500.9 L183.0 500.5 L184.0 500.9 L185.0 501.4 L186.0 501.6 L187.0 501.4 L188.0 501.1 L189.0 500.4 L190.0 500.0 L191.0 500.6 L192.0 501.1 L193.0 501.4 L194.0 501.3 L195.0 501.5 L196.0 501.8 L197.0 501.9 L198.0 501.9 L199.0 502.1 L200.0 502.2 L201.0 502.4 L202.0 502.2 L203.0 502.4 L204.0 502.0 L205.0 501.6 L206.0 502.1 L207.0 501.9 L208.0 502.0 L209.0 501.8 L210.0 501.9 L211.0 501.8 L212.0 501.6 L213.0 501.4 L214.0 500.9 L215.0 501.4 L216.0 501.8 L217.0 501.6 L218.0 501.4 L219.0 501.6 L220.0 501.4 L221.0 501.3 L222.0 500.9 L222.4 500.3 L223.0 498.2 L223.4 496.5 L223.6 491.3 L224.0 483.6 L224.6 475.8 L225.3 483.6 L225.9 491.3 L226.4 496.5 L226.9 499.0 L228.0 500.2 L229.0 500.9 L230.6 501.2 L232.0 500.7 L232.6 498.2 L233.4 493.8 L234.2 496.5 L235.0 499.9 L236.0 500.9 L237.4 501.4 L239.0 500.7 L239.8 499.9 L240.6 500.7 L242.2 501.3 L244.0 500.7 L245.0 500.2 L246.0 498.2 L247.0 494.7 L248.0 492.2 L249.0 496.5 L250.0 499.0 L251.0 499.7 L252.0 499.5 L253.0 499.7 L254.0 500.0 L255.0 500.2 L256.0 500.1 L257.0 500.5 L258.0 500.6 L259.0 500.7 L260.0 500.6 L261.0 500.2 L262.0 500.1 L263.0 499.9 L264.0 499.7 L265.0 499.4 L266.0 499.3 L267.0 499.4 L268.0 498.2 L269.0 494.7 L270.0 492.2 L270.4 491.0 L271.0 492.2 L272.0 493.9 L273.0 496.5 L274.0 498.5 L274.6 496.8 L275.4 497.0 L276.2 498.5 L277.0 500.2 L277.8 499.9 L278.6 498.2 L279.4 497.0 L280.2 496.4 L281.0 497.3 L282.0 498.5 L283.0 499.0 L284.0 498.2 L285.0 496.8 L286.0 495.6 L286.6 495.3 L287.4 496.5 L288.2 498.2 L289.0 498.9 L290.0 497.8 L291.0 495.6 L292.0 493.9 L292.6 493.7 L293.4 495.6 L294.2 497.1 L295.0 497.8 L296.0 498.2 L297.0 499.0 L298.0 498.5 L299.0 497.8 L300.0 498.0 L301.0 497.8 L302.0 497.7 L303.0 498.5 L304.0 499.0 L305.0 498.7 L306.0 498.9 L307.0 498.5 L308.0 498.7 L309.0 498.4 L310.0 498.9 L311.0 499.4 L312.0 498.9 L313.0 498.5 L314.0 498.7 L315.0 498.9 L316.0 498.5 L317.0 498.7 L318.0 498.3 L319.0 499.2 L320.0 498.2 L321.0 498.3 L322.0 497.8 L323.0 497.3 L324.0 496.6 L325.0 497.1 L326.0 497.8 L327.0 497.7 L328.0 497.5 L329.0 496.5 L330.0 494.7 L331.0 492.2 L331.6 491.4 L332.2 492.2 L333.0 493.9 L334.0 497.3 L335.0 498.2 L336.0 499.2 L337.0 498.3 L338.0 497.7 L339.0 498.2 L340.0 498.5 L341.0 498.0 L342.0 497.7 L343.0 497.2 L344.0 497.0 L345.0 495.9 L346.0 495.4 L347.0 494.9 L348.0 494.8 L349.0 495.6 L350.0 496.6 L351.0 496.5 L352.0 497.0 L353.0 497.3 L354.0 497.1 L355.0 497.0 L356.0 496.3 L357.0 495.5 L358.0 496.1 L359.0 497.0 L360.0 497.5 L361.0 498.0 L362.0 498.5 L363.0 497.7 L364.0 497.3 L365.0 496.8 L366.0 497.3 L367.0 497.7 L368.0 497.3 L369.0 497.0 L370.0 497.3 L371.0 497.0 L372.0 497.1 L373.0 497.3 L374.0 497.0 L375.0 495.9 L376.0 497.3 L376.8 499.0 L377.6 495.6 L378.4 493.0 L379.2 492.4 L380.0 493.9 L381.0 495.8 L382.0 496.3 L383.0 495.8 L384.0 495.6 L385.0 495.1 L386.0 495.2 L387.0 495.3 L388.0 495.1 L389.0 495.6 L390.0 496.1 L391.0 495.6 L392.0 494.9 L392.8 494.1 L393.6 494.7 L394.6 495.0 L395.6 494.9 L396.6 495.3 L397.6 495.9 L398.6 496.5 L399.6 495.9 L400.6 496.1 L401.6 495.8 L402.6 496.5 L403.6 496.1 L404.6 495.9 L405.6 496.3 L406.6 496.1 L407.6 495.6 L408.6 495.4 L409.6 495.0 L410.0 495.4 L411.0 495.6 L412.0 495.3 L413.0 495.1 L414.0 494.7 L415.0 494.4 L416.0 493.5 L417.0 492.3 L418.0 491.9 L419.0 492.7 L420.0 493.9 L421.0 494.6 L422.0 495.1 L423.0 495.6 L424.0 495.9 L425.0 495.4 L426.0 495.1 L427.0 495.3 L428.0 494.6 L429.0 493.5 L430.0 491.3 L431.0 490.1 L432.0 491.5 L433.0 493.9 L434.0 495.1 L435.0 495.6 L436.0 495.4 L436.6 492.2 L437.2 488.7 L438.2 477.6 L439.2 467.7 L440.1 477.6 L440.6 488.7 L441.2 491.3 L442.0 493.5 L443.0 493.9 L444.0 493.7 L445.0 494.1 L446.0 493.0 L446.6 488.7 L448.2 484.6 L450.0 489.6 L451.0 492.2 L452.0 493.2 L453.0 493.9 L454.0 494.4 L455.0 494.7 L456.0 493.9 L457.0 492.9 L458.0 492.2 L459.0 492.5 L460.0 493.9 L460.6 494.6 L461.2 492.2 L462.0 488.7 L462.6 487.5 L463.4 488.7 L464.0 490.5 L465.0 490.8 L466.0 490.1 L467.0 491.0 L468.0 491.3 L469.0 490.8 L470.0 490.1 L471.0 489.9 L472.0 490.1 L472.4 492.0 L474.0 491.0 L475.0 488.0 L475.6 480.0 L476.0 460.0 L476.6 430.0 L477.0 400.0 L477.5 300.0 L478.0 200.0 L478.6 68.0 L479.2 200.0 L479.7 300.0 L480.6 400.0 L481.0 430.0 L481.6 460.0 L482.4 476.0 L483.4 484.0 L484.4 488.0 L486.0 491.0 L487.0 491.1 L488.0 491.7 L489.0 492.0 L490.0 492.2 L491.0 490.6 L492.0 491.5 L493.0 492.0 L494.0 491.5 L495.0 491.0 L496.0 490.8 L497.0 492.2 L498.0 493.4 L499.0 494.4 L500.0 493.0 L501.0 492.2 L502.0 491.5 L503.0 491.1 L504.0 491.3 L505.0 491.7 L506.0 491.3 L507.0 492.2 L508.0 492.9 L509.0 493.0 L510.0 492.2 L511.0 490.5 L512.0 489.2 L513.0 490.5 L514.0 491.1 L515.0 491.0 L516.0 491.5 L517.0 491.0 L518.0 490.6 L519.0 490.5 L520.0 492.3 L521.0 491.3 L521.6 490.9 L522.4 492.2 L523.2 493.9 L524.0 495.3 L524.8 495.9 L525.6 495.1 L526.4 494.2 L527.2 492.5 L528.0 492.3 L528.8 491.7 L529.6 491.0 L530.4 490.7 L531.2 491.5 L532.0 492.3 L533.0 492.9 L534.0 493.4 L534.8 492.2 L535.6 490.6 L536.4 491.3 L537.2 492.7 L538.0 492.0 L538.8 491.3 L539.6 491.0 L540.4 490.6 L541.2 491.0 L542.0 491.5 L542.8 490.5 L543.6 488.6 L544.4 488.1 L545.2 489.6 L546.0 490.5 L546.8 492.2 L547.6 492.7 L548.4 490.5 L549.2 489.3 L550.0 488.6 L550.8 489.3 L551.6 488.7 L552.4 488.1 L553.0 487.7 L553.6 489.1 L554.2 490.3 L554.8 488.2 L555.4 487.4 L556.2 487.9 L557.0 489.1 L557.6 489.9 L558.2 487.5 L559.0 484.5 L560.0 481.0 L560.8 480.5 L561.6 482.7 L562.4 486.2 L563.2 487.9 L564.0 489.1 L564.8 489.9 L565.6 489.1 L566.2 488.2 L567.0 488.1 L568.0 488.7 L568.8 489.6 L569.6 490.5 L570.4 491.1 L571.2 492.7 L572.0 493.0 L572.8 491.1 L573.6 489.6 L574.4 487.9 L575.2 487.2 L576.0 486.2 L577.0 484.5 L578.0 482.6 L579.0 483.1 L580.0 484.5 L581.0 485.3 L582.0 485.7 L582.8 486.3 L583.4 487.9 L584.0 489.1 L584.8 491.1 L585.4 488.7 L586.0 486.7 L586.8 485.6 L587.6 486.7 L588.2 487.9 L588.8 488.9 L589.4 488.2 L590.0 487.4 L591.0 486.2 L592.0 485.3 L593.2 484.8 L594.0 485.8 L594.8 487.5 L595.6 489.3 L596.4 488.6 L597.2 487.7 L598.0 487.3 L599.0 487.2 L599.8 487.9 L600.4 488.9 L600.8 490.1 L601.6 490.3 L602.2 488.7 L602.8 488.1 L603.4 488.2 L604.0 490.1 L604.8 491.3 L605.4 489.1 L606.0 486.5 L607.0 484.5 L607.6 484.3 L608.4 486.2 L609.2 483.6 L610.0 483.0 L610.8 484.5 L611.6 485.0 L612.4 483.3 L613.2 482.1 L614.0 482.1 L614.8 483.3 L615.6 483.1 L616.4 484.5 L617.0 487.0 L617.6 488.7 L618.2 486.5 L619.0 485.1 L620.0 486.2 L621.0 486.9 L621.6 485.7 L622.2 487.0 L622.8 488.4 L623.4 489.3 L624.0 487.7 L624.6 487.9 L625.2 485.1 L625.6 484.2 L626.0 487.9 L626.4 489.9 L627.0 487.9 L627.6 487.0 L628.4 487.5 L628.4 505.5 Z" fill="url(#sp)" fill-opacity="0.5"/>
<path d="M58.8 498.3 L59.6 498.3 L60.4 500.7 L61.4 501.1 L62.4 497.8 L63.2 498.7 L63.8 505.5 L64.4 501.6 L65.6 500.6 L66.4 501.6 L67.6 499.5 L68.4 500.9 L69.4 505.5 L70.0 501.6 L70.6 500.8 L71.6 500.7 L72.4 501.4 L73.4 502.1 L74.4 503.3 L75.0 504.1 L76.0 503.0 L77.0 504.1 L78.0 503.3 L79.4 501.7 L80.4 502.5 L81.4 502.3 L82.4 501.9 L83.4 502.8 L84.4 502.1 L85.6 501.3 L86.4 501.4 L87.4 503.0 L88.4 503.7 L89.4 502.1 L90.8 499.9 L91.6 500.6 L92.6 502.5 L93.6 503.3 L94.4 503.7 L95.6 501.9 L96.6 502.1 L97.6 503.0 L98.6 503.9 L99.6 503.7 L100.6 504.0 L101.6 503.2 L102.6 503.1 L103.6 504.0 L104.6 503.1 L105.6 503.0 L106.6 504.0 L107.6 504.3 L108.6 503.3 L109.6 501.6 L110.6 500.1 L111.6 500.7 L112.6 502.1 L113.6 503.0 L114.4 502.8 L115.6 503.0 L116.6 503.3 L117.6 503.0 L118.6 503.3 L119.6 502.5 L120.6 502.3 L121.6 501.8 L122.6 502.3 L123.6 502.9 L124.6 502.4 L125.6 502.9 L126.6 503.0 L127.6 503.3 L128.6 503.0 L129.6 501.9 L130.8 500.7 L131.6 501.3 L132.6 502.5 L133.6 501.8 L134.6 501.6 L135.6 502.1 L136.6 503.3 L137.6 502.5 L138.6 502.8 L139.6 502.1 L140.6 501.2 L141.6 501.4 L142.6 502.3 L143.6 501.6 L144.6 501.3 L145.6 499.0 L146.8 497.3 L147.6 497.8 L148.6 500.6 L149.6 501.6 L150.6 501.8 L151.6 502.1 L152.6 501.6 L153.6 501.9 L154.6 502.1 L155.6 501.1 L156.6 501.6 L157.6 502.1 L158.6 502.5 L159.6 502.8 L160.6 503.0 L161.6 501.9 L162.6 501.3 L163.6 501.8 L164.6 502.3 L165.6 502.5 L166.6 501.9 L167.6 501.6 L168.6 501.4 L169.6 501.6 L170.0 502.1 L171.0 501.6 L172.0 500.7 L173.0 500.1 L174.0 501.1 L175.0 501.8 L176.0 501.6 L177.0 501.3 L178.0 500.4 L179.0 500.0 L180.0 500.7 L181.0 501.4 L182.0 500.9 L183.0 500.5 L184.0 500.9 L185.0 501.4 L186.0 501.6 L187.0 501.4 L188.0 501.1 L189.0 500.4 L190.0 500.0 L191.0 500.6 L192.0 501.1 L193.0 501.4 L194.0 501.3 L195.0 501.5 L196.0 501.8 L197.0 501.9 L198.0 501.9 L199.0 502.1 L200.0 502.2 L201.0 502.4 L202.0 502.2 L203.0 502.4 L204.0 502.0 L205.0 501.6 L206.0 502.1 L207.0 501.9 L208.0 502.0 L209.0 501.8 L210.0 501.9 L211.0 501.8 L212.0 501.6 L213.0 501.4 L214.0 500.9 L215.0 501.4 L216.0 501.8 L217.0 501.6 L218.0 501.4 L219.0 501.6 L220.0 501.4 L221.0 501.3 L222.0 500.9 L222.4 500.3 L223.0 498.2 L223.4 496.5 L223.6 491.3 L224.0 483.6 L224.6 475.8 L225.3 483.6 L225.9 491.3 L226.4 496.5 L226.9 499.0 L228.0 500.2 L229.0 500.9 L230.6 501.2 L232.0 500.7 L232.6 498.2 L233.4 493.8 L234.2 496.5 L235.0 499.9 L236.0 500.9 L237.4 501.4 L239.0 500.7 L239.8 499.9 L240.6 500.7 L242.2 501.3 L244.0 500.7 L245.0 500.2 L246.0 498.2 L247.0 494.7 L248.0 492.2 L249.0 496.5 L250.0 499.0 L251.0 499.7 L252.0 499.5 L253.0 499.7 L254.0 500.0 L255.0 500.2 L256.0 500.1 L257.0 500.5 L258.0 500.6 L259.0 500.7 L260.0 500.6 L261.0 500.2 L262.0 500.1 L263.0 499.9 L264.0 499.7 L265.0 499.4 L266.0 499.3 L267.0 499.4 L268.0 498.2 L269.0 494.7 L270.0 492.2 L270.4 491.0 L271.0 492.2 L272.0 493.9 L273.0 496.5 L274.0 498.5 L274.6 496.8 L275.4 497.0 L276.2 498.5 L277.0 500.2 L277.8 499.9 L278.6 498.2 L279.4 497.0 L280.2 496.4 L281.0 497.3 L282.0 498.5 L283.0 499.0 L284.0 498.2 L285.0 496.8 L286.0 495.6 L286.6 495.3 L287.4 496.5 L288.2 498.2 L289.0 498.9 L290.0 497.8 L291.0 495.6 L292.0 493.9 L292.6 493.7 L293.4 495.6 L294.2 497.1 L295.0 497.8 L296.0 498.2 L297.0 499.0 L298.0 498.5 L299.0 497.8 L300.0 498.0 L301.0 497.8 L302.0 497.7 L303.0 498.5 L304.0 499.0 L305.0 498.7 L306.0 498.9 L307.0 498.5 L308.0 498.7 L309.0 498.4 L310.0 498.9 L311.0 499.4 L312.0 498.9 L313.0 498.5 L314.0 498.7 L315.0 498.9 L316.0 498.5 L317.0 498.7 L318.0 498.3 L319.0 499.2 L320.0 498.2 L321.0 498.3 L322.0 497.8 L323.0 497.3 L324.0 496.6 L325.0 497.1 L326.0 497.8 L327.0 497.7 L328.0 497.5 L329.0 496.5 L330.0 494.7 L331.0 492.2 L331.6 491.4 L332.2 492.2 L333.0 493.9 L334.0 497.3 L335.0 498.2 L336.0 499.2 L337.0 498.3 L338.0 497.7 L339.0 498.2 L340.0 498.5 L341.0 498.0 L342.0 497.7 L343.0 497.2 L344.0 497.0 L345.0 495.9 L346.0 495.4 L347.0 494.9 L348.0 494.8 L349.0 495.6 L350.0 496.6 L351.0 496.5 L352.0 497.0 L353.0 497.3 L354.0 497.1 L355.0 497.0 L356.0 496.3 L357.0 495.5 L358.0 496.1 L359.0 497.0 L360.0 497.5 L361.0 498.0 L362.0 498.5 L363.0 497.7 L364.0 497.3 L365.0 496.8 L366.0 497.3 L367.0 497.7 L368.0 497.3 L369.0 497.0 L370.0 497.3 L371.0 497.0 L372.0 497.1 L373.0 497.3 L374.0 497.0 L375.0 495.9 L376.0 497.3 L376.8 499.0 L377.6 495.6 L378.4 493.0 L379.2 492.4 L380.0 493.9 L381.0 495.8 L382.0 496.3 L383.0 495.8 L384.0 495.6 L385.0 495.1 L386.0 495.2 L387.0 495.3 L388.0 495.1 L389.0 495.6 L390.0 496.1 L391.0 495.6 L392.0 494.9 L392.8 494.1 L393.6 494.7 L394.6 495.0 L395.6 494.9 L396.6 495.3 L397.6 495.9 L398.6 496.5 L399.6 495.9 L400.6 496.1 L401.6 495.8 L402.6 496.5 L403.6 496.1 L404.6 495.9 L405.6 496.3 L406.6 496.1 L407.6 495.6 L408.6 495.4 L409.6 495.0 L410.0 495.4 L411.0 495.6 L412.0 495.3 L413.0 495.1 L414.0 494.7 L415.0 494.4 L416.0 493.5 L417.0 492.3 L418.0 491.9 L419.0 492.7 L420.0 493.9 L421.0 494.6 L422.0 495.1 L423.0 495.6 L424.0 495.9 L425.0 495.4 L426.0 495.1 L427.0 495.3 L428.0 494.6 L429.0 493.5 L430.0 491.3 L431.0 490.1 L432.0 491.5 L433.0 493.9 L434.0 495.1 L435.0 495.6 L436.0 495.4 L436.6 492.2 L437.2 488.7 L438.2 477.6 L439.2 467.7 L440.1 477.6 L440.6 488.7 L441.2 491.3 L442.0 493.5 L443.0 493.9 L444.0 493.7 L445.0 494.1 L446.0 493.0 L446.6 488.7 L448.2 484.6 L450.0 489.6 L451.0 492.2 L452.0 493.2 L453.0 493.9 L454.0 494.4 L455.0 494.7 L456.0 493.9 L457.0 492.9 L458.0 492.2 L459.0 492.5 L460.0 493.9 L460.6 494.6 L461.2 492.2 L462.0 488.7 L462.6 487.5 L463.4 488.7 L464.0 490.5 L465.0 490.8 L466.0 490.1 L467.0 491.0 L468.0 491.3 L469.0 490.8 L470.0 490.1 L471.0 489.9 L472.0 490.1 L472.4 492.0 L474.0 491.0 L475.0 488.0 L475.6 480.0 L476.0 460.0 L476.6 430.0 L477.0 400.0 L477.5 300.0 L478.0 200.0 L478.6 68.0 L479.2 200.0 L479.7 300.0 L480.6 400.0 L481.0 430.0 L481.6 460.0 L482.4 476.0 L483.4 484.0 L484.4 488.0 L486.0 491.0 L487.0 491.1 L488.0 491.7 L489.0 492.0 L490.0 492.2 L491.0 490.6 L492.0 491.5 L493.0 492.0 L494.0 491.5 L495.0 491.0 L496.0 490.8 L497.0 492.2 L498.0 493.4 L499.0 494.4 L500.0 493.0 L501.0 492.2 L502.0 491.5 L503.0 491.1 L504.0 491.3 L505.0 491.7 L506.0 491.3 L507.0 492.2 L508.0 492.9 L509.0 493.0 L510.0 492.2 L511.0 490.5 L512.0 489.2 L513.0 490.5 L514.0 491.1 L515.0 491.0 L516.0 491.5 L517.0 491.0 L518.0 490.6 L519.0 490.5 L520.0 492.3 L521.0 491.3 L521.6 490.9 L522.4 492.2 L523.2 493.9 L524.0 495.3 L524.8 495.9 L525.6 495.1 L526.4 494.2 L527.2 492.5 L528.0 492.3 L528.8 491.7 L529.6 491.0 L530.4 490.7 L531.2 491.5 L532.0 492.3 L533.0 492.9 L534.0 493.4 L534.8 492.2 L535.6 490.6 L536.4 491.3 L537.2 492.7 L538.0 492.0 L538.8 491.3 L539.6 491.0 L540.4 490.6 L541.2 491.0 L542.0 491.5 L542.8 490.5 L543.6 488.6 L544.4 488.1 L545.2 489.6 L546.0 490.5 L546.8 492.2 L547.6 492.7 L548.4 490.5 L549.2 489.3 L550.0 488.6 L550.8 489.3 L551.6 488.7 L552.4 488.1 L553.0 487.7 L553.6 489.1 L554.2 490.3 L554.8 488.2 L555.4 487.4 L556.2 487.9 L557.0 489.1 L557.6 489.9 L558.2 487.5 L559.0 484.5 L560.0 481.0 L560.8 480.5 L561.6 482.7 L562.4 486.2 L563.2 487.9 L564.0 489.1 L564.8 489.9 L565.6 489.1 L566.2 488.2 L567.0 488.1 L568.0 488.7 L568.8 489.6 L569.6 490.5 L570.4 491.1 L571.2 492.7 L572.0 493.0 L572.8 491.1 L573.6 489.6 L574.4 487.9 L575.2 487.2 L576.0 486.2 L577.0 484.5 L578.0 482.6 L579.0 483.1 L580.0 484.5 L581.0 485.3 L582.0 485.7 L582.8 486.3 L583.4 487.9 L584.0 489.1 L584.8 491.1 L585.4 488.7 L586.0 486.7 L586.8 485.6 L587.6 486.7 L588.2 487.9 L588.8 488.9 L589.4 488.2 L590.0 487.4 L591.0 486.2 L592.0 485.3 L593.2 484.8 L594.0 485.8 L594.8 487.5 L595.6 489.3 L596.4 488.6 L597.2 487.7 L598.0 487.3 L599.0 487.2 L599.8 487.9 L600.4 488.9 L600.8 490.1 L601.6 490.3 L602.2 488.7 L602.8 488.1 L603.4 488.2 L604.0 490.1 L604.8 491.3 L605.4 489.1 L606.0 486.5 L607.0 484.5 L607.6 484.3 L608.4 486.2 L609.2 483.6 L610.0 483.0 L610.8 484.5 L611.6 485.0 L612.4 483.3 L613.2 482.1 L614.0 482.1 L614.8 483.3 L615.6 483.1 L616.4 484.5 L617.0 487.0 L617.6 488.7 L618.2 486.5 L619.0 485.1 L620.0 486.2 L621.0 486.9 L621.6 485.7 L622.2 487.0 L622.8 488.4 L623.4 489.3 L624.0 487.7 L624.6 487.9 L625.2 485.1 L625.6 484.2 L626.0 487.9 L626.4 489.9 L627.0 487.9 L627.6 487.0 L628.4 487.5" fill="none" stroke="#000" stroke-width="1.25" stroke-linejoin="round"/>
</g>
<rect x="58.5" y="28.5" width="570.0" height="477.0" fill="none" stroke="#000" stroke-width="1" shape-rendering="crispEdges"/>
<g opacity="0.999">
<text transform="translate(1.04 18.80) scale(1.0594 1)" font-size="12">NOVA</text>
<text transform="translate(40.09 18.80) scale(1.0189 1)" font-size="12">CAS</text>
<text transform="translate(69.33 18.80) scale(1.1340 1)" font-size="12">2020</text>
<text transform="translate(104.95 18.80) scale(1.1394 1)" font-size="12">le</text>
<text transform="translate(120.33 18.80) scale(1.1304 1)" font-size="12">6</text>
<text transform="translate(132.32 18.80) scale(1.1671 1)" font-size="12">Septembre</text>
<text transform="translate(205.42 18.80) scale(1.1650 1)" font-size="12">2020</text>
<text transform="translate(240.79 18.80) scale(1.2162 1)" font-size="12">(Newton</text>
<text transform="translate(299.23 18.80) scale(1.1481 1)" font-size="12">200</text>
<text transform="translate(327.08 18.80) scale(1.0919 1)" font-size="12">mm</text>
<text transform="translate(352.74 18.80) scale(1.0560 1)" font-size="12">F5</text>
<path d="M372.2 20.6 L377.2 9.2" stroke="#000" stroke-width="1.05" fill="none"/>
<text transform="translate(381.20 18.80) scale(1.0495 1)" font-size="12">Alpy</text>
<text transform="translate(411.13 18.80) scale(1.1481 1)" font-size="12">600</text>
<path d="M439.0 20.6 L443.8 9.2" stroke="#000" stroke-width="1.05" fill="none"/>
<text transform="translate(448.33 18.80) scale(1.1360 1)" font-size="12">70</text>
<text transform="translate(467.75 18.80) scale(1.1389 1)" font-size="12">min</text>
<text transform="translate(494.24 18.80) scale(1.1280 1)" font-size="12">de</text>
<text transform="translate(513.70 18.80) scale(1.1960 1)" font-size="12">pose</text>
<path d="M548.9 20.6 L553.6 9.2" stroke="#000" stroke-width="1.05" fill="none"/>
<text transform="translate(558.21 18.80) scale(1.1842 1)" font-size="12">Christophe</text>
<text transform="translate(630.74 18.80) scale(1.1600 1)" font-size="12">Boussin)</text>
<text transform="translate(82.41 525.00) scale(1.1654 1)" font-size="12">4000</text>
<text transform="translate(157.23 525.00) scale(1.1654 1)" font-size="12">4500</text>
<text transform="translate(231.75 525.00) scale(1.1767 1)" font-size="12">5000</text>
<text transform="translate(306.57 525.00) scale(1.1767 1)" font-size="12">5500</text>
<text transform="translate(381.39 525.00) scale(1.1767 1)" font-size="12">6000</text>
<text transform="translate(456.21 525.00) scale(1.1767 1)" font-size="12">6500</text>
<text transform="translate(531.03 525.00) scale(1.1767 1)" font-size="12">7000</text>
<text transform="translate(605.85 525.00) scale(1.1767 1)" font-size="12">7500</text>
<text transform="translate(42.75 510.40) scale(1.0957 1)" font-size="12">0</text>
<text transform="translate(42.75 442.26) scale(1.0957 1)" font-size="12">5</text>
<text transform="translate(33.57 374.11) scale(1.2333 1)" font-size="12">10</text>
<text transform="translate(33.57 305.97) scale(1.2333 1)" font-size="12">15</text>
<text transform="translate(34.21 237.83) scale(1.1840 1)" font-size="12">20</text>
<text transform="translate(34.21 169.69) scale(1.1840 1)" font-size="12">25</text>
<text transform="translate(34.21 101.54) scale(1.1840 1)" font-size="12">30</text>
<text transform="translate(34.21 33.40) scale(1.1840 1)" font-size="12">35</text>
<text transform="translate(640.43 510.40) scale(1.1304 1)" font-size="12">0</text>
<text transform="translate(640.42 430.90) scale(1.1556 1)" font-size="12">0.5</text>
<text transform="translate(640.81 351.40) scale(0.9905 1)" font-size="12">1</text>
<text transform="translate(640.65 271.90) scale(1.1475 1)" font-size="12">1.5</text>
<text transform="translate(640.43 192.40) scale(1.1304 1)" font-size="12">2</text>
<text transform="translate(640.42 112.90) scale(1.1556 1)" font-size="12">2.5</text>
<text transform="translate(640.43 33.40) scale(1.1304 1)" font-size="12">3</text>
<text transform="translate(294.40 545.70) scale(1.1926 1)" font-size="12">Wavelength (Å)</text>
<text transform="translate(15.85 321.08) rotate(-90) scale(1.1822 1)" font-size="12">Relative intensity</text>
</g>
</svg></body></html>
